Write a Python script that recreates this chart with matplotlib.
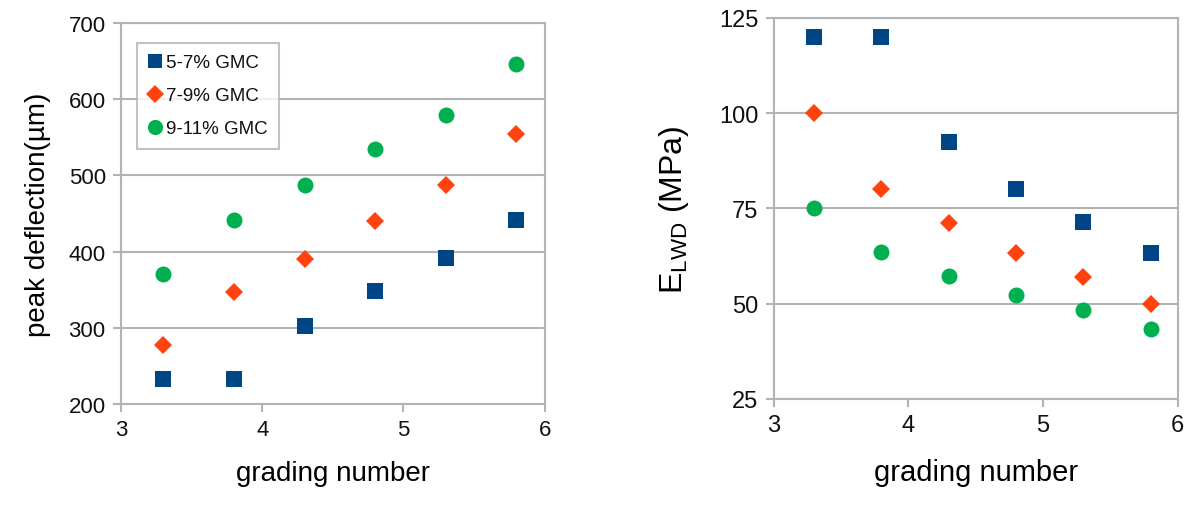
import matplotlib
matplotlib.use("Agg")
import matplotlib.pyplot as plt

plt.rcParams["font.family"] = ["Liberation Sans", "DejaVu Sans"]
plt.rcParams["mathtext.fontset"] = "custom"
plt.rcParams["mathtext.rm"] = "Liberation Sans"

# data
grading = [3.3, 3.8, 4.3, 4.8, 5.3, 5.8]
labels = ["5-7% GMC", "7-9% GMC", "9-11% GMC"]

deflection_5_7 = [233, 233, 302, 348, 391, 441]
deflection_7_9 = [278, 347, 390, 440, 487, 554]
deflection_9_11 = [370, 441, 488, 535, 579, 646]

elwd_5_7 = [120, 120, 92.4, 80.2, 71.4, 63.4]
elwd_7_9 = [100, 80, 71.3, 63.3, 57.0, 50.0]
elwd_9_11 = [75, 63.5, 57.3, 52.2, 48.4, 43.5]

COLORS = ["#004586", "#ff420e", "#00b050"]
MARKERS = ["s", "D", "o"]
SIZES = [11, 9.5, 11.5]
GRID = "#b3b3b3"

fig = plt.figure(figsize=(11.92, 5.06), dpi=100)
ax1 = fig.add_axes([0.1015, 0.1996, 0.3555, 0.753])
ax2 = fig.add_axes([0.649, 0.2095, 0.339, 0.753])


def style_axes(ax, tick_size):
    for sp in ax.spines.values():
        sp.set_color(GRID)
        sp.set_linewidth(1.5)
    ax.grid(axis="y", color=GRID, linewidth=1.5)
    ax.set_axisbelow(True)
    ax.tick_params(direction="out", length=6, width=1.5, color=GRID,
                   labelsize=tick_size, labelcolor="#111111", pad=5)
    ax.set_xlim(3, 6)
    ax.set_xticks([3, 4, 5, 6])


# left: peak deflection
for ys, lab, c, m, s in zip([deflection_5_7, deflection_7_9, deflection_9_11],
                            labels, COLORS, MARKERS, SIZES):
    ax1.plot(grading, ys, linestyle="none", marker=m, ms=s, color=c,
             mew=0, label=lab)
style_axes(ax1, 16)
ax1.set_ylim(200, 700)
ax1.set_yticks(range(200, 701, 100))
ax1.set_xlabel("grading number", fontsize=20, labelpad=14)
ax1.set_ylabel("peak deflection(µm)", fontsize=20, labelpad=13)

leg = ax1.legend(loc="upper left", bbox_to_anchor=(0.038, 0.9475),
                 borderaxespad=0, fontsize=13.5, frameon=True, fancybox=False,
                 handlelength=0.7, handletextpad=0.25, labelspacing=0.85,
                 borderpad=0.6, markerscale=0.95, labelcolor="#111111")
leg.get_frame().set_edgecolor(GRID)
leg.get_frame().set_linewidth(1.5)

# right: E_LWD
for ys, lab, c, m, s in zip([elwd_5_7, elwd_7_9, elwd_9_11],
                            labels, COLORS, MARKERS, SIZES):
    ax2.plot(grading, ys, linestyle="none", marker=m, ms=s, color=c, mew=0)
style_axes(ax2, 17)
ax2.set_ylim(25, 125)
ax2.set_yticks(range(25, 126, 25))
ax2.set_xlabel("grading number", fontsize=21, labelpad=16)
ax2.set_ylabel(r"E$_{\mathrm{LWD}}$ (MPa)", fontsize=23, labelpad=20)

fig.savefig("out.png", dpi=100)
